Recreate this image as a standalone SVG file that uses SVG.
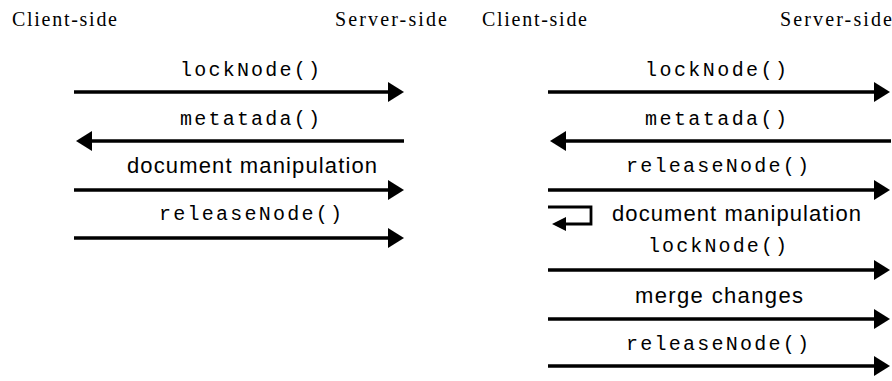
<svg xmlns="http://www.w3.org/2000/svg" width="892" height="381" viewBox="0 0 892 381">
  <style>
    .side { font-family: "Liberation Serif", "Times New Roman", serif; font-size: 20px; fill: #000; }
    .call { font-family: "Liberation Mono", "Courier New", monospace; font-size: 20px; fill: #000; }
    .note { font-family: "Liberation Sans", Arial, sans-serif; font-size: 22px; fill: #000; }
    .msg { stroke: #000; stroke-width: 3.5; fill: none; marker-end: url(#head); }
    .loop { stroke: #000; stroke-width: 2.8; fill: none; marker-end: url(#smallhead); }
  </style>
  <defs>
    <marker id="head" markerUnits="userSpaceOnUse" markerWidth="17" markerHeight="20" refX="2" refY="10" orient="auto" viewBox="0 0 17 20">
      <path d="M0,0 L16,10 L0,20 Z" fill="#000"/>
    </marker>
    <marker id="smallhead" markerUnits="userSpaceOnUse" markerWidth="15" markerHeight="14" refX="2" refY="7" orient="auto" viewBox="0 0 15 14">
      <path d="M0,0 L14,7 L0,14 Z" fill="#000"/>
    </marker>
  </defs>
  <rect width="892" height="381" fill="#fff"/>

  <!-- Left sequence: lock, read metadata, edit, release -->
  <g id="left-headers">
    <text class="side" x="12" y="26" textLength="105" lengthAdjust="spacing">Client-side</text>
    <text class="side" x="335" y="26" textLength="112" lengthAdjust="spacing">Server-side</text>
  </g>
  <g id="left-labels">
    <text class="call" x="180" y="76" textLength="140" lengthAdjust="spacing">lockNode()</text>
    <text class="call" x="180" y="125" textLength="140" lengthAdjust="spacing">metatada()</text>
    <text class="note" x="127" y="173" textLength="250" lengthAdjust="spacing">document manipulation</text>
    <text class="call" x="159" y="220" textLength="183" lengthAdjust="spacing">releaseNode()</text>
  </g>

  <!-- Right sequence: lock, read metadata, release, edit offline, lock, merge, release -->
  <g id="right-headers">
    <text class="side" x="482" y="26" textLength="105" lengthAdjust="spacing">Client-side</text>
    <text class="side" x="780" y="26" textLength="112" lengthAdjust="spacing">Server-side</text>
  </g>
  <g id="right-labels">
    <text class="call" x="645" y="76" textLength="142" lengthAdjust="spacing">lockNode()</text>
    <text class="call" x="645" y="125" textLength="142" lengthAdjust="spacing">metatada()</text>
    <text class="call" x="626" y="172" textLength="183" lengthAdjust="spacing">releaseNode()</text>
    <text class="note" x="612" y="221" textLength="249" lengthAdjust="spacing">document manipulation</text>
    <text class="call" x="648" y="252" textLength="139" lengthAdjust="spacing">lockNode()</text>
    <text class="note" x="635" y="303" textLength="168" lengthAdjust="spacing">merge changes</text>
    <text class="call" x="626" y="350" textLength="183" lengthAdjust="spacing">releaseNode()</text>
  </g>

  <g id="connectors">
    <!-- left column -->
    <line class="msg" x1="74" y1="92" x2="390" y2="92"/>
    <line class="msg" x1="404" y1="141" x2="90" y2="141"/>
    <line class="msg" x1="74" y1="190" x2="390" y2="190"/>
    <line class="msg" x1="74" y1="238" x2="390" y2="238"/>
    <!-- right column -->
    <line class="msg" x1="548" y1="92" x2="876" y2="92"/>
    <line class="msg" x1="891" y1="141" x2="564" y2="141"/>
    <line class="msg" x1="548" y1="190" x2="876" y2="190"/>
    <path class="loop" d="M548,207 H591 V224 H564"/>
    <line class="msg" x1="548" y1="270" x2="876" y2="270"/>
    <line class="msg" x1="548" y1="319" x2="876" y2="319"/>
    <line class="msg" x1="548" y1="366" x2="876" y2="366"/>
  </g>
</svg>
